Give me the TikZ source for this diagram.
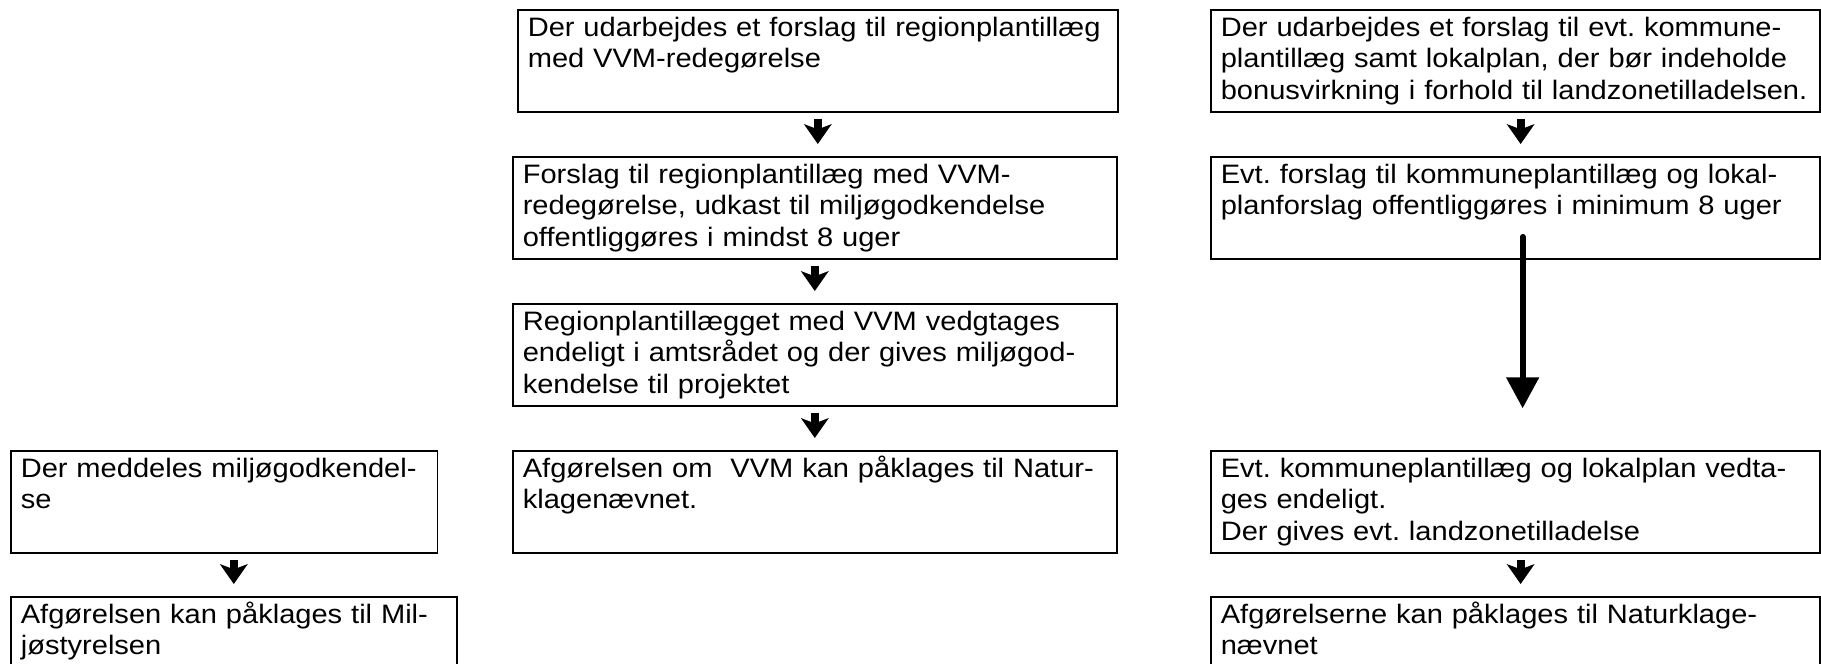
\documentclass[tikz,border=0pt]{standalone}
\usepackage{fontspec}
\setmainfont{Liberation Sans}[FakeStretch=1.09]
\usetikzlibrary{arrows.meta}
\frenchspacing

\begin{document}
\begin{tikzpicture}[x=0.75pt,y=-0.75pt,
    trin/.style={draw, line width=1.2pt, anchor=north west, inner xsep=7.5pt, inner ysep=0pt,
      text height=19.9pt, text depth=56.6pt, align=left,
      font=\fontsize{20pt}{23.6pt}\selectfont},
    pil/.style={line width=6pt, shorten <=4.5pt, shorten >=9pt,
      -{Stealth[length=15pt,width=21pt,inset=4pt,line width=0pt]}},
    langpil/.style={line width=4.5pt, line cap=round, shorten >=31.5pt,
      -{Triangle[length=23pt,width=25pt,line width=0pt]}}]
  \useasboundingbox (0,0) rectangle (1821,664);
  \clip (0,0) rectangle (1821,664);
  % miljoegodkendelse
  \node[trin, text width=305pt] (miljoGodk) at (10,450) {Der meddeles miljøgodkendel-\\se};
  \node[trin, text width=319.5pt] (klageMiljo) at (10,596) {Afgørelsen kan påklages til Mil-\\jøstyrelsen};
  % regionplan
  \node[trin, text width=435pt] (forslagRegion) at (517,9) {Der udarbejdes et forslag til regionplantillæg\\med VVM-redegørelse};
  \node[trin, text width=438pt] (offentligRegion) at (512,156) {Forslag til regionplantillæg med VVM-\\redegørelse, udkast til miljøgodkendelse\\offentliggøres i mindst 8 uger};
  \node[trin, text width=438pt] (vedtagRegion) at (512,303) {Regionplantillægget med VVM vedgtages\\endeligt i amtsrådet og der gives miljøgod-\\kendelse til projektet};
  \node[trin, text width=438pt] (klageVVM) at (512,450) {Afgørelsen om \ VVM kan påklages til Natur-\\klagenævnet.};
  % kommuneplan og lokalplan
  \node[trin, text width=441.75pt] (forslagKommune) at (1210,9) {Der udarbejdes et forslag til evt. kommune-\\plantillæg samt lokalplan, der bør indeholde\\bonusvirkning i forhold til landzonetilladelsen.};
  \node[trin, text width=441.75pt] (offentligKommune) at (1210,156) {Evt. forslag til kommuneplantillæg og lokal-\\planforslag offentliggøres i minimum 8 uger};
  \node[trin, text width=441.75pt] (vedtagKommune) at (1210,450) {Evt. kommuneplantillæg og lokalplan vedta-\\ges endeligt.\\Der gives evt. landzonetilladelse};
  \node[trin, text width=441.75pt] (klageNatur) at (1210,596) {Afgørelserne kan påklages til Naturklage-\\nævnet};
  %
  \draw[pil] (klageMiljo.north |- miljoGodk.south) -- (klageMiljo.north);
  \draw[pil] (forslagRegion.south) -- (forslagRegion.south |- offentligRegion.north);
  \draw[pil] (offentligRegion.south) -- (vedtagRegion.north);
  \draw[pil] (vedtagRegion.south) -- (klageVVM.north);
  \draw[pil] ([xshift=4pt]forslagKommune.south) -- ([xshift=4pt]forslagKommune.south |- offentligKommune.north);
  \draw[langpil] ([xshift=5.5pt,yshift=17pt]offentligKommune.south) -- ([xshift=5.5pt]offentligKommune.south |- vedtagKommune.north);
  \draw[pil] ([xshift=4pt]vedtagKommune.south) -- ([xshift=4pt]vedtagKommune.south |- klageNatur.north);
\end{tikzpicture}
\end{document}
